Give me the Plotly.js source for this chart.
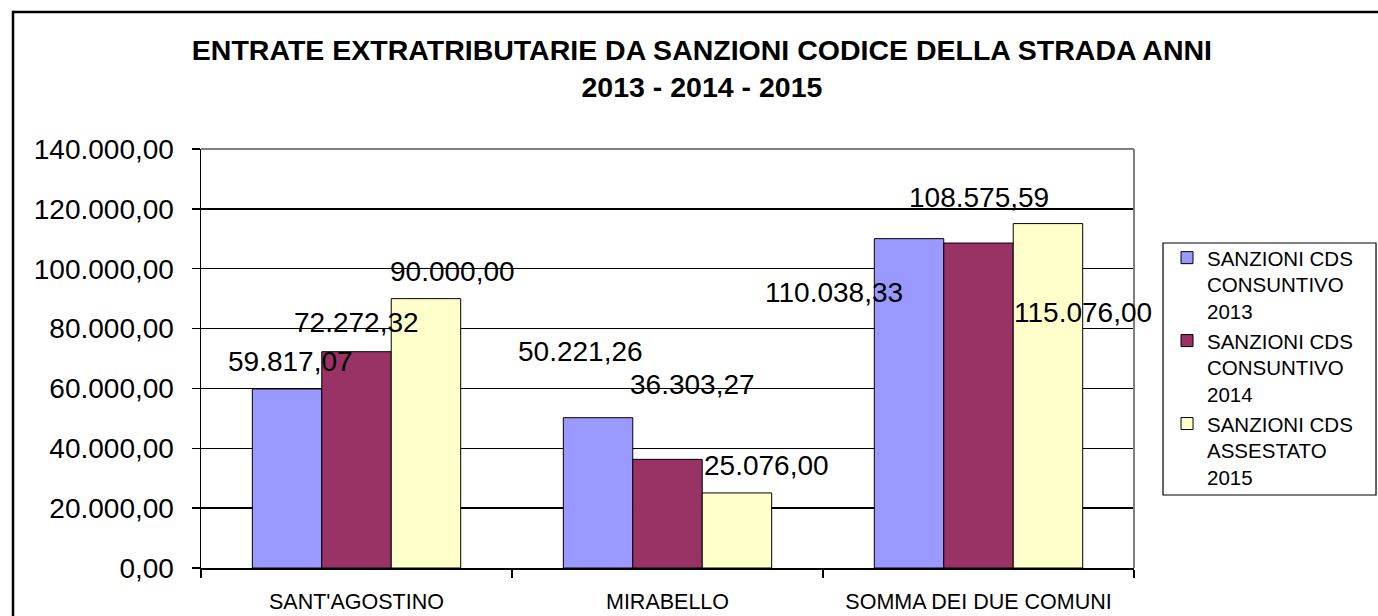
<!DOCTYPE html>
<html>
<head>
<meta charset="utf-8">
<script src="https://cdn.plot.ly/plotly-3.0.1.min.js"></script>
<style>
  html, body { margin: 0; padding: 0; background: #fff; }
  #chart { width: 1378px; height: 616px; }
</style>
</head>
<body>
<div id="chart"></div>
<script>
// ---- data ----
const categories = ["SANT'AGOSTINO", "MIRABELLO", "SOMMA DEI DUE COMUNI"];
const seriesNames = [
  "SANZIONI CDS<br>CONSUNTIVO<br>2013",
  "SANZIONI CDS<br>CONSUNTIVO<br>2014",
  "SANZIONI CDS<br>ASSESTATO<br>2015"
];
const values2013 = [59817.07, 50221.26, 110038.33];
const values2014 = [72272.32, 36303.27, 108575.59];
const values2015 = [90000.00, 25076.00, 115076.00];
const yTickVals = [0, 20000, 40000, 60000, 80000, 100000, 120000, 140000];

// ---- style ----
const colors = ['#9999FF', '#993366', '#FFFFCC'];
const FONT = '"Liberation Sans", Arial, sans-serif';
// label offsets (px) relative to each bar's centre/top, as placed in the original
const barShift = [-69.5, 0, 69.5];
const labelDx = [[3, -18, -75], [0, 25, 0], [26, 29, 35]];
const labelDy = [[27, 66, -54], [29, 75, 46], [27, 27, -89]];

const allValues = [values2013, values2014, values2015];

const traces = allValues.map((vals, i) => ({
  type: 'bar',
  name: seriesNames[i],
  x: categories,
  y: vals,
  marker: { color: colors[i], line: { color: '#000', width: 1 } },
  hoverinfo: 'skip'
}));

function itFormat(v) {
  const parts = v.toFixed(2).split('.');
  const intPart = parts[0].replace(/\B(?=(\d{3})+(?!\d))/g, '.');
  return intPart + ',' + parts[1];
}

const annotations = [];
allValues.forEach((vals, i) => {
  vals.forEach((v, j) => {
    annotations.push({
      x: categories[j], y: v, xref: 'x', yref: 'y',
      text: itFormat(v),
      showarrow: false,
      xanchor: 'center', yanchor: 'middle',
      xshift: barShift[i] + labelDx[i][j],
      yshift: labelDy[i][j],
      font: { family: FONT, size: 28, color: '#000' }
    });
  });
});

const layout = {
  width: 1378, height: 616,
  margin: { l: 201, r: 244, t: 149, b: 48, autoexpand: false },
  paper_bgcolor: '#fff', plot_bgcolor: '#fff',
  separators: ',.',
  font: { family: FONT, color: '#000' },
  title: {
    text: '<b>ENTRATE EXTRATRIBUTARIE DA SANZIONI CODICE DELLA STRADA ANNI<br>2013 - 2014 - 2015</b>',
    font: { family: FONT, size: 28.5, color: '#000' },
    xref: 'container', x: 0.5094, xanchor: 'center',
    yref: 'container', y: 0.903, yanchor: 'top'
  },
  barmode: 'group', bargap: 0.33, bargroupgap: 0,
  xaxis: {
    type: 'category',
    range: [-0.5, 2.5], autorange: false,
    showline: true, linecolor: '#000', linewidth: 1.5,
    ticks: 'outside', tickson: 'boundaries', ticklen: 8, tickcolor: '#000', tickwidth: 1.5,
    ticklabelstandoff: 14,
    showgrid: false, zeroline: false,
    tickfont: { family: FONT, size: 21.5, color: '#000' },
    fixedrange: true
  },
  yaxis: {
    range: [0, 140000], autorange: false,
    tickvals: yTickVals,
    tickformat: ',.2f',
    showline: true, linecolor: '#000', linewidth: 1.5,
    ticks: 'outside', ticklen: 8, tickcolor: '#000', tickwidth: 1.5,
    ticklabelstandoff: 12,
    showgrid: true, gridcolor: '#000', gridwidth: 1.5,
    zeroline: false,
    tickfont: { family: FONT, size: 28, color: '#000' },
    fixedrange: true
  },
  legend: {
    x: 1.0354, xanchor: 'left', y: 0.788, yanchor: 'top',
    borderwidth: 0, bgcolor: 'rgba(0,0,0,0)',
    font: { family: FONT, size: 20.5, color: '#000' },
    valign: 'top',
    tracegroupgap: 0, itemwidth: 30
  },
  annotations: annotations,
  shapes: [
    // outer chart frame (top and left edges; right/bottom fall outside the picture)
    { type: 'line', xref: 'paper', yref: 'paper', x0: -0.2015, x1: 1.3, y0: 1.3270, y1: 1.3270,
      line: { color: '#000', width: 2.5 }, layer: 'above' },
    { type: 'line', xref: 'paper', yref: 'paper', x0: -0.2015, x1: -0.2015, y0: -0.2, y1: 1.3300,
      line: { color: '#000', width: 2.5 }, layer: 'above' },
    // plot area top and right border (grey)
    { type: 'line', xref: 'paper', yref: 'paper', x0: 0, x1: 1, y0: 1, y1: 1,
      line: { color: '#808080', width: 2 }, layer: 'above' },
    { type: 'line', xref: 'paper', yref: 'paper', x0: 1, x1: 1, y0: 0, y1: 1,
      line: { color: '#808080', width: 2 }, layer: 'above' },
    // legend frame
    { type: 'rect', xref: 'paper', yref: 'paper', x0: 1.0311, x1: 1.2594, y0: 0.1742, y1: 0.7757,
      line: { color: '#000', width: 1.2 }, fillcolor: 'rgba(0,0,0,0)', layer: 'below' }
  ],
  showlegend: true
};

Plotly.newPlot('chart', traces, layout, { displayModeBar: false, staticPlot: true });
</script>
</body>
</html>
